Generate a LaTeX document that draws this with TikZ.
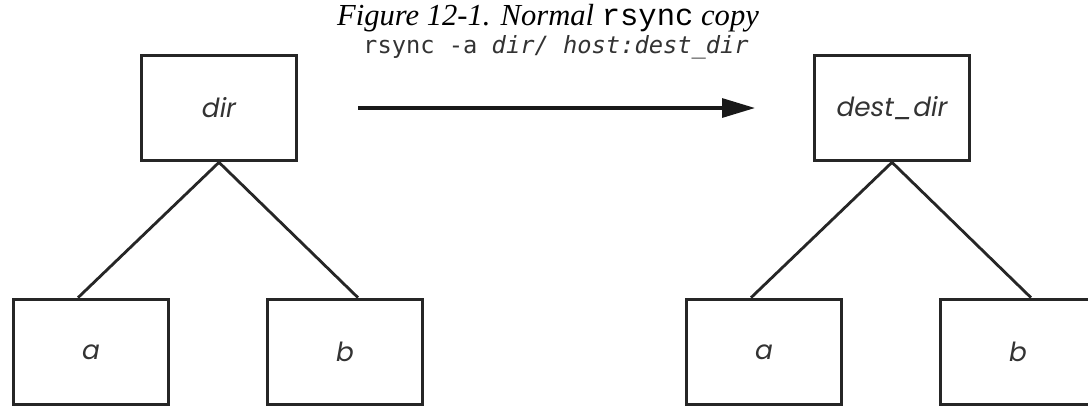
\documentclass[tikz,border=0pt]{standalone}
\usepackage{fontspec}
\setmainfont{Liberation Serif}
\setmonofont{Liberation Mono}
\newfontfamily\cmdfont{DejaVu Sans Mono}
\newfontfamily\boxfont{Poppins}
\usetikzlibrary{arrows.meta}

\tikzset{
	dirbox/.style={draw=black!85, line width=2.1pt, inner sep=0pt,
		minimum width=3.1cm, minimum height=2.1cm,
		text=black!80, font=\boxfont\itshape\fontsize{15}{18}\selectfont},
	treeline/.style={draw=black!85, line width=1.6pt},
	cmdarrow/.style={draw=black!90, line width=1.8pt,
		-{Triangle[length=0.66cm, width=0.38cm]}},
}

\begin{document}
\begin{tikzpicture}[x=0.02cm, y=-0.02cm]
	\useasboundingbox (0, 0) rectangle (1088, 407);
	% Titel
	\node (title) at (548, 18) {\fontsize{17.4}{20}\selectfont
		\textit{Figure 12-1. Normal} \texttt{rsync} \textit{copy}};
	% Befehl
	\node (cmd) at (556, 47) {\cmdfont\fontsize{13.5}{16}\selectfont\color{black!80}
		rsync -a \textit{dir/ host:dest\_dir}};
	\coordinate (src) at (358, 108);
	\coordinate (dst) at (755, 108);
	\draw[cmdarrow] (src) -- (dst);

	% Quellbaum
	\node[dirbox] (dir) at (219, 108) {dir};
	\node[dirbox] (a1) at (91, 352) {a};
	\node[dirbox] (b1) at (345, 352) {b};
	\draw[treeline] (dir.south) -- ([xshift=-0.26cm]a1.north);
	\draw[treeline] (dir.south) -- ([xshift=0.26cm]b1.north);

	% Zielbaum
	\node[dirbox] (dest) at (892, 108) {dest\_dir};
	\node[dirbox] (a2) at (764, 352) {a};
	\node[dirbox] (b2) at (1018, 352) {b};
	\draw[treeline] (dest.south) -- ([xshift=-0.26cm]a2.north);
	\draw[treeline] (dest.south) -- ([xshift=0.26cm]b2.north);
\end{tikzpicture}
\end{document}
